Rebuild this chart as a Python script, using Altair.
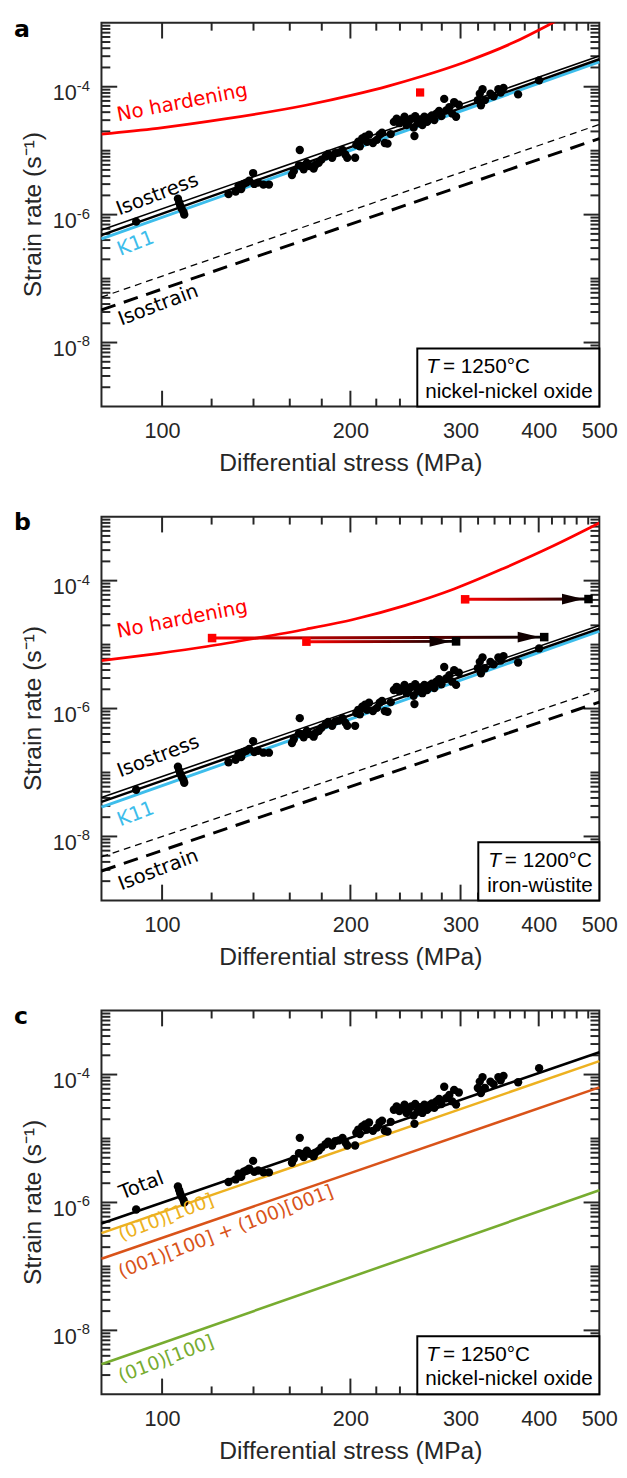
import altair as alt
import pandas as pd

stress = [90.9, 106.0, 106.5, 106.9, 107.5, 108.2, 108.5,
          127.7, 131.1, 132.5, 133.8, 135.0, 136.4, 137.8, 139.8, 140.4, 142.4, 145.2, 148.2,
          161.3, 162.4, 165.5, 166.0, 167.2, 168.4, 170.4, 172.1, 174.7, 175.9, 178.0, 179.8,
          182.5, 184.3, 187.0, 189.2, 191.5, 194.3, 196.3, 197.7,
          203.5, 204.4, 205.9, 207.1, 208.9, 211.1, 212.6, 214.2, 217.3, 220.5, 222.7, 224.7,
          227.0, 229.3, 232.0,
          234.7, 237.1, 239.5, 242.3, 244.1, 245.9, 247.7, 250.2, 252.4, 253.2, 253.9, 256.1,
          258.4, 260.7, 262.6, 265.3, 267.6, 270.0, 272.4, 274.4, 277.2, 279.6, 282.5, 284.6,
          287.9, 290.9, 293.0, 295.1, 298.1,
          319.7, 322.0, 323.4, 325.3, 328.1, 334.9, 338.8, 344.8, 347.8, 351.4, 370.8, 400.6]

# log10 of strain rate, nickel-nickel oxide buffer (panels a and c)
rate_exp_ni = [-6.11, -5.75, -5.81, -5.86, -5.91, -5.96, -6.00,
               -5.68, -5.64, -5.55, -5.60, -5.52, -5.50, -5.47, -5.35, -5.52, -5.50, -5.53, -5.53,
               -5.38, -5.32, -5.23, -4.99, -5.24, -5.29, -5.19, -5.24, -5.28, -5.22, -5.19, -5.14,
               -5.09, -5.05, -5.11, -5.04, -5.03, -4.99, -5.06, -5.11,
               -5.11, -4.91, -4.86, -4.93, -4.81, -4.78, -4.86, -4.75, -4.88, -4.83, -4.75, -4.72,
               -4.88, -4.89, -4.74,
               -4.55, -4.50, -4.57, -4.52, -4.47, -4.60, -4.55, -4.50, -4.64, -4.77, -4.46, -4.57,
               -4.51, -4.60, -4.47, -4.55, -4.48, -4.45, -4.52, -4.42, -4.38, -4.46, -4.19, -4.37,
               -4.32, -4.42, -4.24, -4.47, -4.28,
               -4.21, -4.11, -4.29, -4.04, -4.21, -4.11, -4.15, -4.04, -4.09, -4.02, -4.12, -3.90]

# log10 of strain rate, iron-wustite buffer (panel b)
rate_exp_fe = [-7.27, -6.91, -6.97, -7.02, -7.07, -7.12, -7.16,
               -6.84, -6.80, -6.71, -6.76, -6.68, -6.66, -6.63, -6.51, -6.68, -6.66, -6.69, -6.69,
               -6.54, -6.48, -6.39, -6.15, -6.40, -6.45, -6.35, -6.40, -6.44, -6.38, -6.35, -6.30,
               -6.25, -6.21, -6.27, -6.20, -6.19, -6.15, -6.22, -6.27,
               -6.27, -6.07, -6.02, -6.09, -5.97, -5.94, -6.02, -5.91, -6.04, -5.99, -5.91, -5.88,
               -6.04, -6.05, -5.90,
               -5.71, -5.66, -5.73, -5.68, -5.63, -5.76, -5.71, -5.66, -5.80, -5.93, -5.62, -5.73,
               -5.67, -5.76, -5.63, -5.71, -5.64, -5.61, -5.68, -5.58, -5.54, -5.62, -5.35, -5.53,
               -5.48, -5.58, -5.40, -5.63, -5.44,
               -5.37, -5.27, -5.45, -5.20, -5.37, -5.27, -5.31, -5.20, -5.25, -5.18, -5.28, -5.06]

# ---------------- model curves ----------------
line_stress = [80, 500]
# panel a
isostress_a = [-6.32, -3.57]
isostress2_a = [-6.24, -3.52]
k11_a = [-6.38, -3.61]
isostrain_a = [-7.49, -4.81]
isostrain2_a = [-7.29, -4.59]
nohard_a_stress = [80, 98.3, 126.8, 169.7, 203.6, 229.8, 259.5, 303.8, 364.4, 415.5, 453.4]
nohard_a_exp = [-4.74, -4.65, -4.50, -4.29, -4.12, -3.99, -3.84, -3.62, -3.31, -3.03, -2.83]
red_a_stress = [258.5]
red_a_exp = [-4.09]
# panel b
isostress_b = [-7.46, -4.75]
isostress2_b = [-7.39, -4.70]
k11_b = [-7.54, -4.79]
isostrain_b = [-8.54, -5.90]
isostrain2_b = [-8.32, -5.71]
nohard_b_stress = [80, 98.3, 117.9, 141.4, 169.7, 203.6, 244.2, 292.9, 351.3, 421.5, 500]
nohard_b_exp = [-5.25, -5.14, -5.03, -4.90, -4.76, -4.60, -4.39, -4.13, -3.81, -3.46, -3.10]
arrow_id = ["1", "2", "3"]
arrow_from_stress = [120.2, 170.1, 305.1]
arrow_from_exp = [-4.898, -4.954, -4.292]
arrow_to_stress = [408.2, 295.1, 480.5]
arrow_to_exp = [-4.883, -4.950, -4.288]
# panel c
total_c = [-6.33, -3.65]
slip1_c = [-6.48, -3.79]   # (010)[100]
slip2_c = [-6.88, -4.20]   # (001)[100] + (100)[001]
slip3_c = [-8.53, -5.81]   # (010)[100] (green)

# ---------------- axes furniture ----------------
xtick_labels = [100, 200, 300, 400, 500]
xtick_major = [100, 200, 300, 400]
xtick_minor = [120, 140, 160, 180, 220, 240, 260, 280, 320, 340, 360, 380, 420, 440, 460, 480]
ytick_major = [1e-8, 1e-6, 1e-4]
ytick_exp = ["-8", "-6", "-4"]
ytick_minor = [d * 10.0 ** k for k in range(-9, -3) for d in range(1, 10)
               if not (d == 1 and k in (-9, -8, -6, -4))]

AX = "#262626"
RED = "#ff0000"
CYAN = "#3dbdeb"
YEL = "#edb120"
ORA = "#d95319"
GRN = "#77ac30"
W, H = 506, 390
LBL_FONT = "DejaVu Sans"
AX_FONT = "Liberation Sans"

X_AXIS = alt.Axis(values=xtick_labels, format="d", title="Differential stress (MPa)",
                  ticks=False, domain=False, grid=False,
                  labelFont=AX_FONT, labelFontSize=22, labelColor=AX, labelPadding=15,
                  labelFlush=False, labelOverlap=False,
                  titleFont=AX_FONT, titleFontSize=25, titleFontWeight="normal",
                  titleColor=AX, titlePadding=9)


def xenc():
    return alt.X("stress:Q", scale=alt.Scale(type="log", domain=[80, 500], nice=False), axis=X_AXIS)


def yenc():
    return alt.Y("rate:Q", scale=alt.Scale(type="log", domain=[1e-9, 1e-3], nice=False), axis=None)


def table(xs, exps, **cols):
    d = {"stress": list(xs), "rate": [10.0 ** e for e in exps]}
    d.update(cols)
    return pd.DataFrame(d)


def line(xs, exps, color, width, dash=None, interp=None, clip=False):
    kw = dict(color=color, strokeWidth=width, clip=clip)
    if dash:
        kw["strokeDash"] = dash
    if interp:
        kw["interpolate"] = interp
    return alt.Chart(table(xs, exps)).mark_line(**kw).encode(x=xenc(), y=yenc())


def txt(s, x, y, color="black", size=20, font=LBL_FONT, angle=0, style="normal",
        weight="normal", align="left"):
    d = pd.DataFrame({"t": [s]})
    return alt.Chart(d).mark_text(align=align, baseline="alphabetic", angle=angle, fontSize=size,
                                  font=font, fontStyle=style, fontWeight=weight,
                                  color=color).encode(x=alt.value(x), y=alt.value(y), text="t:N")


def ticks():
    out = []
    for vals, ln in ((xtick_major, 16), (xtick_minor, 8)):
        d = pd.DataFrame({"stress": vals})
        out.append(alt.Chart(d).mark_rule(color=AX, strokeWidth=2).encode(
            x=xenc(), y=alt.value(H), y2=alt.value(H - ln)))
        out.append(alt.Chart(d).mark_rule(color=AX, strokeWidth=2).encode(
            x=xenc(), y=alt.value(0), y2=alt.value(ln)))
    for vals, ln in ((ytick_major, 16), (ytick_minor, 9)):
        d = pd.DataFrame({"rate": vals})
        out.append(alt.Chart(d).mark_rule(color=AX, strokeWidth=2).encode(
            y=yenc(), x=alt.value(0), x2=alt.value(ln)))
        out.append(alt.Chart(d).mark_rule(color=AX, strokeWidth=2).encode(
            y=yenc(), x=alt.value(W), x2=alt.value(W - ln)))
    return out


def yaxis_text(letter):
    d = pd.DataFrame({"rate": ytick_major, "base": ["10"] * 3, "exp": ytick_exp})
    base = alt.Chart(d).mark_text(align="right", baseline="alphabetic", dy=14, fontSize=22,
                                  font=AX_FONT, color=AX).encode(
        x=alt.value(-25), y=yenc(), text="base:N")
    sup = alt.Chart(d).mark_text(align="left", baseline="alphabetic", dy=4, fontSize=15,
                                 font=AX_FONT, color=AX).encode(
        x=alt.value(-25), y=yenc(), text="exp:N")
    title = txt("Strain rate (s\u207b\u00b9)", -61, H / 2, color=AX, size=25, font=AX_FONT,
                angle=270, align="center")
    lab = txt(letter, -89, 14, color="black", size=24, weight="bold")
    return [base, sup, title, lab]


def box(x0, temp, place, tx, ex):
    d = pd.DataFrame({"k": [0]})
    rect = alt.Chart(d).mark_rect(fill="white", stroke="black", strokeWidth=2).encode(
        x=alt.value(x0), x2=alt.value(W), y=alt.value(331), y2=alt.value(H))
    return [rect,
            txt("T", tx, 356, size=21, font=AX_FONT, style="italic"),
            txt("= " + temp, ex, 356, size=21, font=AX_FONT),
            txt(place, tx - 1, 381, size=21, font=AX_FONT)]


def points(exps):
    return alt.Chart(table(stress, exps)).mark_circle(size=72, color="black", opacity=1).encode(
        x=xenc(), y=yenc())


# ---------------- panel a ----------------
layers_a = ticks() + [
    line(line_stress, isostrain2_a, "black", 1.3, dash=[7, 5]),
    line(line_stress, isostrain_a, "black", 3, dash=[15, 9]),
    line(line_stress, k11_a, CYAN, 3),
    line(line_stress, isostress_a, "black", 2.5),
    line(line_stress, isostress2_a, "black", 1.6),
    line(nohard_a_stress, nohard_a_exp, RED, 2.8, interp="monotone", clip=True),
    points(rate_exp_ni),
    alt.Chart(table(red_a_stress, red_a_exp)).mark_square(size=70, color=RED, opacity=1).encode(
        x=xenc(), y=yenc()),
    txt("No hardening", 17, 100, RED, angle=349),
    txt("Isostress", 18, 196, "black", angle=339),
    txt("K11", 19, 237, CYAN, angle=339),
    txt("Isostrain", 20, 308, "black", angle=339),
] + box(321, "1250\u00b0C", "nickel-nickel oxide", 330, 347) + yaxis_text("a")
panel_a = alt.layer(*layers_a).properties(width=W, height=H)

# ---------------- panel b ----------------
arrow_rows = pd.DataFrame({
    "stress": arrow_from_stress + arrow_to_stress,
    "rate": [10.0 ** e for e in arrow_from_exp + arrow_to_exp],
    "arrow": arrow_id + arrow_id,
})
grad = alt.Gradient(gradient="linear",
                    stops=[alt.GradientStop(color=RED, offset=0),
                           alt.GradientStop(color="#000000", offset=1)],
                    x1=0, x2=1, y1=0, y2=0)
layers_b = ticks() + [
    line(line_stress, isostrain2_b, "black", 1.3, dash=[7, 5]),
    line(line_stress, isostrain_b, "black", 3, dash=[15, 9]),
    line(line_stress, k11_b, CYAN, 3),
    line(line_stress, isostress_b, "black", 2.5),
    line(line_stress, isostress2_b, "black", 1.6),
    line(nohard_b_stress, nohard_b_exp, RED, 2.8, interp="monotone", clip=True),
    points(rate_exp_fe),
    alt.Chart(arrow_rows).mark_line(stroke=grad, strokeWidth=3).encode(
        x=xenc(), y=yenc(), detail="arrow:N"),
    alt.Chart(table(arrow_from_stress, arrow_from_exp)).mark_square(
        size=75, color=RED, opacity=1).encode(x=xenc(), y=yenc()),
    alt.Chart(table(arrow_to_stress, arrow_to_exp)).mark_point(
        shape="M-1,-0.5L1,0L-1,0.5Z", size=480, filled=True, color="#100000", opacity=1,
        xOffset=-16).encode(x=xenc(), y=yenc()),
    alt.Chart(table(arrow_to_stress, arrow_to_exp)).mark_square(
        size=75, color="black", opacity=1).encode(x=xenc(), y=yenc()),
    txt("No hardening", 17, 123, RED, angle=349),
    txt("Isostress", 19, 265, "black", angle=339),
    txt("K11", 19, 315, CYAN, angle=339),
    txt("Isostrain", 20, 380, "black", angle=339),
] + box(383, "1200\u00b0C", "iron-w\u00fcstite", 393, 410) + yaxis_text("b")
panel_b = alt.layer(*layers_b).properties(width=W, height=H)

# ---------------- panel c ----------------
layers_c = ticks() + [
    line(line_stress, slip3_c, GRN, 2.6),
    line(line_stress, slip2_c, ORA, 2.6),
    line(line_stress, slip1_c, YEL, 2.6),
    line(line_stress, total_c, "black", 2.6),
    points(rate_exp_ni),
    txt("Total", 21, 192, "black", angle=339),
    txt("(010)[100]", 20, 234, YEL, size=19, angle=339),
    txt("(001)[100] + (100)[001]", 20, 272, ORA, size=19, angle=339),
    txt("(010)[100]", 20, 378, GRN, size=19, angle=339),
] + box(321, "1250\u00b0C", "nickel-nickel oxide", 330, 347) + yaxis_text("c")
panel_c = alt.layer(*layers_c).properties(width=W, height=H)

chart = alt.vconcat(panel_a, panel_b, panel_c, spacing=112, bounds="flush").configure_view(
    stroke=AX, strokeWidth=2).properties(
    padding={"left": 5, "top": -3, "right": 0, "bottom": 0})

chart.save("out.html", embed_options={"renderer": "svg", "actions": False})
